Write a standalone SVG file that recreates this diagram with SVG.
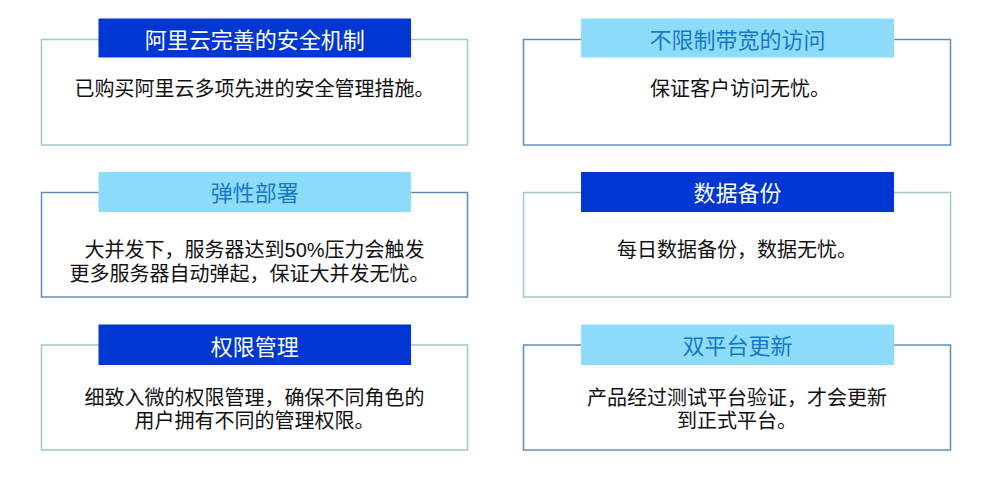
<svg xmlns="http://www.w3.org/2000/svg" width="987" height="478" viewBox="0 0 987 478">
<style>
  .box { fill: #ffffff; stroke-width: 1.5; }
  .teal { stroke: #9cc9cc; }
  .blue { stroke: #5f8fb8; }
  .hdark { fill: #0037d2; }
  .hlight { fill: #8ddcfc; }
  text { font-family: "Liberation Sans", "Noto Sans CJK SC", sans-serif; text-anchor: middle; }
  .tdark { fill: #ffffff; font-size: 22px; }
  .tlight { fill: #1a78c8; font-size: 22px; }
  .body { fill: #111111; font-size: 20px; }
</style>
<rect width="987" height="478" fill="#ffffff"/>
<g id="connectors"></g>
<g id="node-security">
  <rect class="box teal" x="41.5" y="39.5" width="426" height="105.5"/>
  <rect class="hdark" x="98.5" y="18.5" width="312.5" height="39"/>
  <text class="tdark" x="254.7" y="47.5">阿里云完善的安全机制</text>
  <text class="body" x="254.6" y="96">已购买阿里云多项先进的安全管理措施。</text>
</g>
<g id="node-bandwidth">
  <rect class="box blue" x="523.5" y="39.5" width="427" height="105.5"/>
  <rect class="hlight" x="581" y="18.5" width="313" height="39"/>
  <text class="tlight" x="737.5" y="47.5">不限制带宽的访问</text>
  <text class="body" x="740" y="96">保证客户访问无忧。</text>
</g>
<g id="node-elastic">
  <rect class="box blue" x="41.5" y="192.5" width="426" height="104.5"/>
  <rect class="hlight" x="98.5" y="172" width="312.5" height="40"/>
  <text class="tlight" x="254.7" y="200.5">弹性部署</text>
  <text class="body"><tspan x="254.6" y="257">大并发下，服务器达到50%压力会触发</tspan><tspan x="249.6" y="281">更多服务器自动弹起，保证大并发无忧。</tspan></text>
</g>
<g id="node-backup">
  <rect class="box teal" x="523.5" y="192.5" width="427" height="104.5"/>
  <rect class="hdark" x="581" y="172" width="313" height="40"/>
  <text class="tdark" x="737.5" y="200.5">数据备份</text>
  <text class="body" x="737" y="257">每日数据备份，数据无忧。</text>
</g>
<g id="node-permission">
  <rect class="box teal" x="41.5" y="345" width="426" height="105"/>
  <rect class="hdark" x="98.5" y="324.5" width="312.5" height="40.5"/>
  <text class="tdark" x="254.7" y="354.5">权限管理</text>
  <text class="body"><tspan x="254.6" y="405">细致入微的权限管理，确保不同角色的</tspan><tspan x="254.6" y="428">用户拥有不同的管理权限。</tspan></text>
</g>
<g id="node-dualplatform">
  <rect class="box blue" x="523.5" y="345" width="427" height="105"/>
  <rect class="hlight" x="581" y="324.5" width="313" height="40.5"/>
  <text class="tlight" x="737.5" y="354">双平台更新</text>
  <text class="body"><tspan x="737" y="405">产品经过测试平台验证，才会更新</tspan><tspan x="737" y="428">到正式平台。</tspan></text>
</g>
</svg>
